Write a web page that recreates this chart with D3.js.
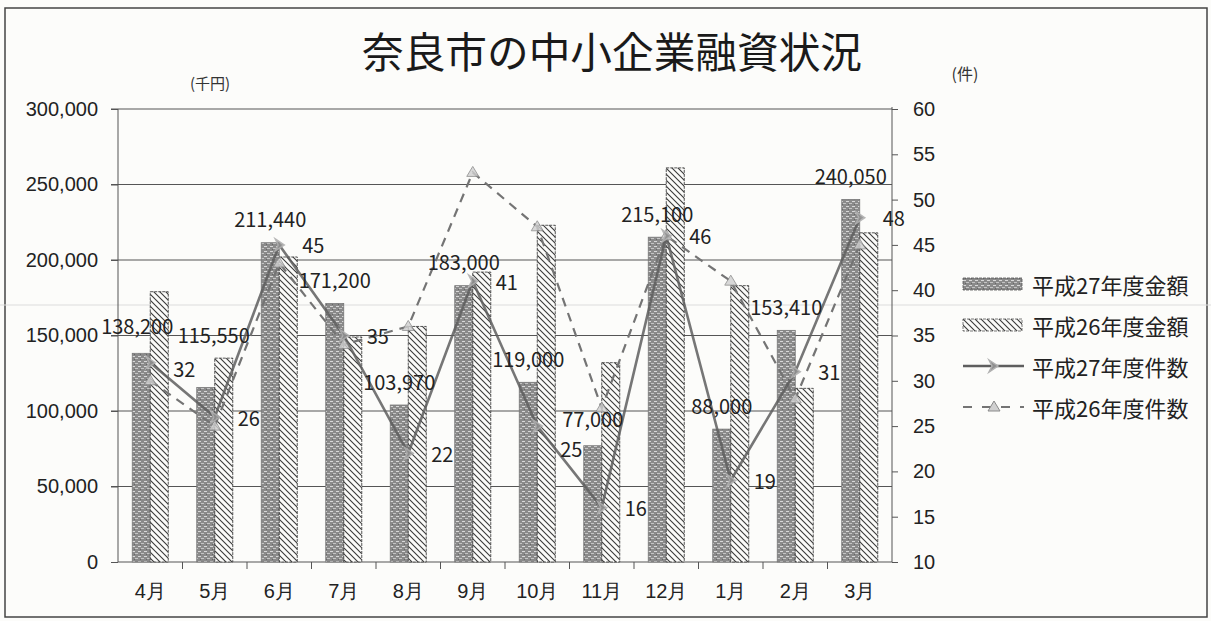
<!DOCTYPE html>
<html>
<head>
<meta charset="utf-8">
<script src="https://cdn.jsdelivr.net/npm/d3@7"></script>
<style>
  body { margin: 0; background: #fcfcfa; }
  svg { display: block; font-family: "Noto Sans CJK JP", "Noto Sans", sans-serif; }
  .axis path, .axis line { stroke: #555; }
  .axis text { fill: #222; }
</style>
</head>
<body>
<script>
// months and values
const months = ["4月", "5月", "6月", "7月", "8月", "9月", "10月", "11月", "12月", "1月", "2月", "3月"];
const amountH27 = [138200, 115550, 211440, 171200, 103970, 183000, 119000, 77000, 215100, 88000, 153410, 240050];
const amountH26 = [179000, 135000, 202000, 149000, 156000, 192000, 223000, 132000, 261000, 183000, 115000, 218000];
const countH27 = [32, 26, 45, 35, 22, 41, 25, 16, 46, 19, 31, 48];
const countH26 = [30, 25, 43, 34, 36, 53, 47, 27, 46, 41, 28, 45];
const leftTicks = [0, 50000, 100000, 150000, 200000, 250000, 300000];
const rightTicks = [10, 15, 20, 25, 30, 35, 40, 45, 50, 55, 60];
const seriesNames = ["平成27年度金額", "平成26年度金額", "平成27年度件数", "平成26年度件数"];

// a few labels were moved by hand in the original ([dx, dy])
const amountNudge = { "4月": [-4, -4], "5月": [8, -29], "11月": [0, -3] };
const countNudge = { "4月": 6, "10月": 22 };

const width = 1211, height = 621;
const plot = { left: 118, right: 892, top: 109, bottom: 562 };

const svg = d3.select("body").append("svg")
  .attr("width", width)
  .attr("height", height);

const defs = svg.append("defs");

// dark brick-ish texture for H27 bars
const pDark = defs.append("pattern")
  .attr("id", "dark").attr("patternUnits", "userSpaceOnUse")
  .attr("width", 6).attr("height", 5);
pDark.append("rect").attr("width", 6).attr("height", 5).attr("fill", "#8a8a8a");
pDark.append("rect").attr("x", 0).attr("y", 1).attr("width", 3).attr("height", 1).attr("fill", "#d8d8d8");
pDark.append("rect").attr("x", 3).attr("y", 3).attr("width", 3).attr("height", 1).attr("fill", "#c4c4c4");
pDark.append("rect").attr("x", 2).attr("y", 4).attr("width", 1).attr("height", 1).attr("fill", "#666");

// diagonal hatch for H26 bars
const pHatch = defs.append("pattern")
  .attr("id", "hatch").attr("patternUnits", "userSpaceOnUse")
  .attr("width", 6).attr("height", 6);
pHatch.append("rect").attr("width", 6).attr("height", 6).attr("fill", "#fbfbf9");
pHatch.append("path").attr("d", "M0,0L6,6M-3,3L3,9M3,-3L9,3")
  .attr("stroke", "#3a3a3a").attr("stroke-width", 1.1);

// frame
svg.append("rect")
  .attr("x", 5).attr("y", 8).attr("width", 1202).attr("height", 609)
  .attr("fill", "none").attr("stroke", "#444").attr("stroke-width", 1.5);

// scales
const x = d3.scaleBand().domain(months).range([plot.left, plot.right]);
const yL = d3.scaleLinear().domain([0, 300000]).range([plot.bottom, plot.top]);
const yR = d3.scaleLinear().domain([10, 60]).range([plot.bottom, plot.top]);
const cx = m => x(m) + x.bandwidth() / 2;
const barW = 18;

// gridlines
svg.append("g")
  .selectAll("line")
  .data(leftTicks.slice(1))
  .join("line")
  .attr("x1", plot.left - 7).attr("x2", plot.right)
  .attr("y1", d => yL(d)).attr("y2", d => yL(d))
  .attr("stroke", "#555").attr("stroke-width", 1);

// scan streak across the page
svg.append("line")
  .attr("x1", 0).attr("x2", width).attr("y1", 305).attr("y2", 305)
  .attr("stroke", "#dcdcdc").attr("stroke-width", 1);

// left axis
const axL = svg.append("g").attr("class", "axis")
  .attr("transform", `translate(${plot.left},0)`)
  .call(d3.axisLeft(yL).tickValues(leftTicks).tickSize(7).tickPadding(13)
    .tickFormat(d3.format(",")));
axL.select(".domain").attr("d", `M0,${plot.bottom}V${plot.top}`);
axL.selectAll("text").style("font-size", "20px");

// right axis
const axR = svg.append("g").attr("class", "axis")
  .attr("transform", `translate(${plot.right},0)`)
  .call(d3.axisRight(yR).tickValues(rightTicks).tickSize(6).tickPadding(15));
axR.select(".domain").attr("d", `M0,${plot.bottom}V${plot.top - 2}`);
axR.selectAll("text").style("font-size", "20px");

// bottom axis
const axB = svg.append("g").attr("class", "axis")
  .attr("transform", `translate(0,${plot.bottom})`)
  .call(d3.axisBottom(x).tickSize(0).tickPadding(22));
axB.select(".domain").attr("d", `M${plot.left},0H${plot.right}`);
axB.selectAll("text").style("font-size", "20px");
axB.selectAll(".sep")
  .data(months.slice(1))
  .join("line").attr("class", "sep")
  .attr("x1", d => x(d)).attr("x2", d => x(d))
  .attr("y1", 0).attr("y2", 7)
  .attr("stroke", "#555");

// bars
svg.append("g").selectAll("rect")
  .data(months)
  .join("rect")
  .attr("x", m => cx(m) - barW)
  .attr("y", (m, i) => yL(amountH27[i]))
  .attr("width", barW)
  .attr("height", (m, i) => plot.bottom - yL(amountH27[i]))
  .attr("fill", "url(#dark)")
  .attr("stroke", "#777").attr("stroke-width", 0.8);

svg.append("g").selectAll("rect")
  .data(months)
  .join("rect")
  .attr("x", m => cx(m))
  .attr("y", (m, i) => yL(amountH26[i]))
  .attr("width", barW)
  .attr("height", (m, i) => plot.bottom - yL(amountH26[i]))
  .attr("fill", "url(#hatch)")
  .attr("stroke", "#444").attr("stroke-width", 0.9)
  .attr("stroke-dasharray", "3,1");

// lines
const line26 = d3.line().x((d, i) => cx(months[i])).y(d => yR(d));
const line27 = d3.line().x((d, i) => cx(months[i])).y(d => yR(d));

svg.append("path")
  .datum(countH26)
  .attr("d", line26)
  .attr("fill", "none")
  .attr("stroke", "#747474").attr("stroke-width", 2.2)
  .attr("stroke-dasharray", "9,7");

svg.append("path")
  .datum(countH27)
  .attr("d", line27)
  .attr("fill", "none")
  .attr("stroke", "#5e5e5e").attr("stroke-width", 2.6)
  .attr("opacity", 0.85);

// markers
const triangle = "M0,-6L6,4L-6,4Z";
const chevron = "M-4,-6L5,0L-4,6L-1,0Z";
svg.append("g").selectAll("path")
  .data(countH26)
  .join("path")
  .attr("transform", (d, i) => `translate(${cx(months[i])},${yR(d)})`)
  .attr("d", triangle)
  .attr("fill", "#d0d0d0").attr("stroke", "#8a8a8a").attr("stroke-width", 1)
  .attr("opacity", 0.8);
svg.append("g").selectAll("path")
  .data(countH27)
  .join("path")
  .attr("transform", (d, i) => `translate(${cx(months[i])},${yR(d)})`)
  .attr("d", chevron)
  .attr("fill", "#8f8f8f").attr("stroke", "#b0b0b0").attr("stroke-width", 1.5)
  .attr("opacity", 0.9);

// data labels
const nudge = m => amountNudge[m] || [0, 0];
svg.append("g").selectAll("text")
  .data(months)
  .join("text")
  .attr("x", m => cx(m) - barW / 2 + nudge(m)[0])
  .attr("y", (m, i) => yL(amountH27[i]) - 24 + nudge(m)[1])
  .attr("text-anchor", "middle")
  .attr("dominant-baseline", "central")
  .style("font-size", "20px").attr("fill", "#222")
  .text((m, i) => d3.format(",")(amountH27[i]));

svg.append("g").selectAll("text")
  .data(months)
  .join("text")
  .attr("x", m => cx(m) + 23)
  .attr("y", (m, i) => yR(countH27[i]) + (countNudge[m] || 0))
  .attr("dominant-baseline", "central")
  .style("font-size", "20px").attr("fill", "#222")
  .text((m, i) => countH27[i]);

// title and unit labels
svg.append("text")
  .attr("x", 612).attr("y", 49)
  .attr("text-anchor", "middle").attr("dominant-baseline", "central")
  .attr("textLength", 500).attr("lengthAdjust", "spacingAndGlyphs")
  .style("font-size", "42px").attr("fill", "#1a1a1a")
  .text("奈良市の中小企業融資状況");

svg.append("text")
  .attr("x", 210).attr("y", 82)
  .attr("text-anchor", "middle").attr("dominant-baseline", "central")
  .style("font-size", "15px").attr("fill", "#333")
  .text("(千円)");

svg.append("text")
  .attr("x", 965).attr("y", 73)
  .attr("text-anchor", "middle").attr("dominant-baseline", "central")
  .style("font-size", "16px").attr("fill", "#333")
  .text("(件)");

// legend
const legend = svg.append("g").attr("transform", "translate(963,284)");
const rowGap = 41;
const item = legend.selectAll("g")
  .data(seriesNames)
  .join("g")
  .attr("transform", (d, i) => `translate(0,${i * rowGap})`);

item.filter((d, i) => i < 2).append("rect")
  .attr("x", 0).attr("y", -6).attr("width", 59).attr("height", 12)
  .attr("fill", (d, i) => i === 0 ? "url(#dark)" : "url(#hatch)")
  .attr("stroke", "#555").attr("stroke-width", 0.8)
  .attr("stroke-dasharray", "3,1");

item.filter((d, i) => i === 2).append("line")
  .attr("x1", 0).attr("x2", 61).attr("y1", 0).attr("y2", 0)
  .attr("stroke", "#5e5e5e").attr("stroke-width", 2.6);
item.filter((d, i) => i === 2).append("path")
  .attr("transform", "translate(30,0)")
  .attr("d", chevron)
  .attr("fill", "#8f8f8f").attr("stroke", "#b0b0b0").attr("stroke-width", 1.5);

item.filter((d, i) => i === 3).append("line")
  .attr("x1", 0).attr("x2", 61).attr("y1", 0).attr("y2", 0)
  .attr("stroke", "#747474").attr("stroke-width", 2.2)
  .attr("stroke-dasharray", "9,10");
item.filter((d, i) => i === 3).append("path")
  .attr("transform", "translate(31,0)")
  .attr("d", triangle)
  .attr("fill", "#d0d0d0").attr("stroke", "#8a8a8a").attr("stroke-width", 1);

item.append("text")
  .attr("x", 69).attr("y", 0)
  .attr("dominant-baseline", "central")
  .style("font-size", "22px").attr("fill", "#222")
  .text(d => d);
</script>
</body>
</html>
